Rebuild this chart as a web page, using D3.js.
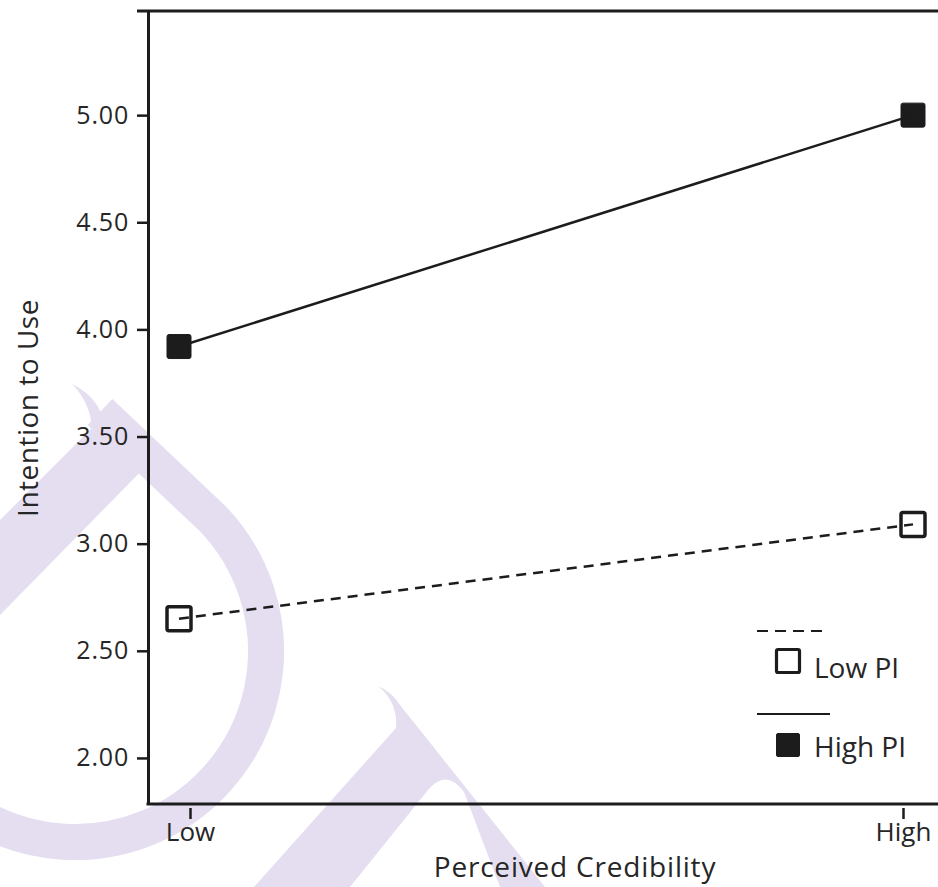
<!DOCTYPE html>
<html>
<head>
<meta charset="utf-8">
<script src="https://cdn.jsdelivr.net/npm/d3@7"></script>
<style>
  html, body { margin: 0; padding: 0; background: #ffffff; }
  svg { display: block; }
  text { font-family: "Open Sans", "DejaVu Sans", sans-serif; fill: #262626; }
</style>
</head>
<body>
<svg id="chart" width="938" height="887"></svg>
<script>
// ---- data ----
const categories = ["Low", "High"];
const seriesNames = ["Low PI", "High PI"];
const lowPI  = [2.65, 3.09];
const highPI = [3.92, 5.00];
const yTicks = [2.00, 2.50, 3.00, 3.50, 4.00, 4.50, 5.00];
const yDomain = [1.785, 5.486];
const xTitle = "Perceived Credibility";
const yTitle = "Intention to Use";

// ---- layout ----
const plotLeft = 148, plotTop = 11, plotBottom = 804, plotRight = 938;
const ink = "#1c1c1c";
const lav = "#e4def0";

const svg = d3.select("#chart");

// ---- background watermark (decorative) ----
const wm = svg.append("g");
wm.append("path")
  .attr("d", "M 100 412 L 212 518 A 191 191 0 1 1 -116 650")
  .attr("fill", "none").attr("stroke", lav).attr("stroke-width", 36);
wm.append("path")
  .attr("d", "M 72 384 Q 100 398 104 424 L 150 462 L 0 615 L 0 520 L 92 428 Q 90 402 72 384 Z")
  .attr("fill", lav);
wm.append("path")
  .attr("d", "M 378 686 Q 398 702 396 728 L 254 887 L 350 887 L 428 790 Q 446 768 464 792 L 500 887 L 545 887 L 400 705 Q 392 692 378 686 Z")
  .attr("fill", lav);

// ---- scales ----
const y = d3.scaleLinear().domain(yDomain).range([plotBottom, plotTop]);
const xTick = d3.scalePoint().domain(categories).range([190, 903]);
const xMark = d3.scalePoint().domain(categories).range([179, 913]);

// ---- frame: top border ----
svg.append("line")
  .attr("x1", 137).attr("x2", plotRight).attr("y1", plotTop).attr("y2", plotTop)
  .attr("stroke", ink).attr("stroke-width", 3);

// ---- y axis ----
const gy = svg.append("g").attr("transform", `translate(${plotLeft},0)`)
  .call(d3.axisLeft(y).tickValues(yTicks).tickFormat(d3.format(".2f"))
        .tickSize(11).tickSizeOuter(0).tickPadding(8));
gy.select(".domain").attr("stroke", ink).attr("stroke-width", 3);
gy.selectAll(".tick line").attr("stroke", ink).attr("stroke-width", 2.5);
gy.selectAll(".tick text")
  .attr("font-family", "'Open Sans', sans-serif")
  .attr("font-size", 25).attr("fill", "#262626")
  .attr("letter-spacing", 0.8);

// ---- x axis ----
svg.append("line")
  .attr("x1", plotLeft - 1.5).attr("x2", plotRight).attr("y1", plotBottom).attr("y2", plotBottom)
  .attr("stroke", ink).attr("stroke-width", 3);
const gx = svg.append("g").attr("transform", `translate(0,${plotBottom})`)
  .call(d3.axisBottom(xTick).tickSize(15).tickSizeOuter(0).tickPadding(8));
gx.select(".domain").remove();
gx.selectAll(".tick line").attr("y1", 4).attr("stroke", ink).attr("stroke-width", 2.5);
gx.selectAll(".tick text")
  .attr("font-family", "'Open Sans', sans-serif")
  .attr("font-size", 26).attr("fill", "#262626")
  .attr("dy", "0.55em");

// ---- titles ----
svg.append("text")
  .attr("x", 575).attr("y", 877).attr("text-anchor", "middle")
  .attr("font-size", 28).attr("letter-spacing", 0.8).text(xTitle);
svg.append("text")
  .attr("transform", `translate(38,408) rotate(-90)`)
  .attr("text-anchor", "middle")
  .attr("font-size", 28).attr("letter-spacing", 0.5).text(yTitle);

// ---- series ----
const series = [
  { name: seriesNames[0], values: lowPI,  dash: "10,7", filled: false },
  { name: seriesNames[1], values: highPI, dash: null,   filled: true }
];
const line = d3.line().x((d, i) => xMark(categories[i])).y(d => y(d));
const ms = 24;

series.forEach(s => {
  const g = svg.append("g");
  g.selectAll("rect").data(s.values).enter().append("rect")
    .attr("x", (d, i) => xMark(categories[i]) - ms / 2)
    .attr("y", d => y(d) - ms / 2)
    .attr("width", ms).attr("height", ms).attr("rx", 2)
    .attr("fill", s.filled ? ink : "#ffffff")
    .attr("stroke", ink).attr("stroke-width", s.filled ? 1 : 3.5);
  g.append("path").datum(s.values).attr("d", line)
    .attr("fill", "none").attr("stroke", ink).attr("stroke-width", 2.5)
    .attr("stroke-dasharray", s.dash);
});

// ---- legend ----
const lg = svg.append("g");
const legendRows = [
  { s: series[0], ly: 631, lx2: 824, my: 661, ty: 678 },
  { s: series[1], ly: 714, lx2: 830, my: 745, ty: 757 }
];
legendRows.forEach(r => {
  lg.append("line").attr("x1", 757).attr("x2", r.lx2).attr("y1", r.ly).attr("y2", r.ly)
    .attr("stroke", ink).attr("stroke-width", 2)
    .attr("stroke-dasharray", r.s.dash ? "11,7" : null);
  lg.append("rect").attr("x", 788 - 11.5).attr("y", r.my - 11.5)
    .attr("width", 23).attr("height", 23).attr("rx", 1.5)
    .attr("fill", r.s.filled ? ink : "#ffffff")
    .attr("stroke", ink).attr("stroke-width", r.s.filled ? 1 : 3.2);
  lg.append("text").attr("x", 814).attr("y", r.ty)
    .attr("font-size", 28).text(r.s.name);
});
</script>
</body>
</html>
